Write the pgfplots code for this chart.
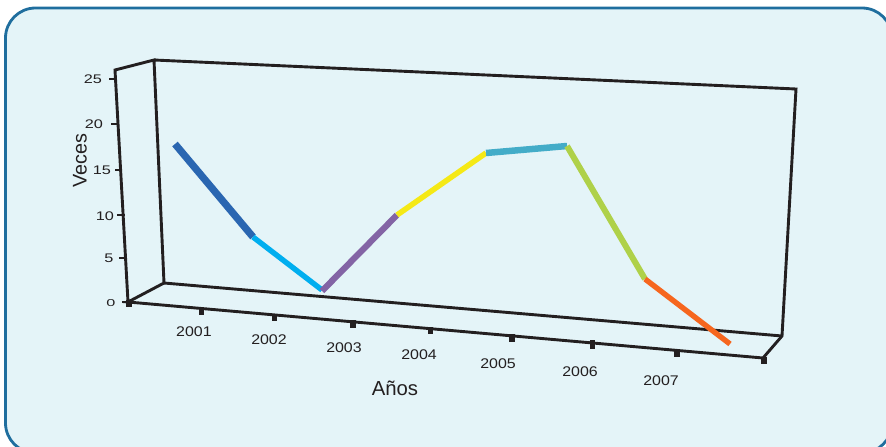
\documentclass[border=0pt]{standalone}
\usepackage{fontspec}
\usepackage{pgfplots}
\pgfplotsset{compat=1.18}
\setmainfont{Liberation Sans}
\newfontfamily\xlabelfont[FakeStretch=1.14]{Liberation Sans}
\newfontfamily\ylabelfont[FakeStretch=1.3]{Liberation Sans}
\definecolor{ink}{HTML}{231F20}
\definecolor{panel}{HTML}{E4F4F8}
\definecolor{panelborder}{HTML}{1F6E9E}
\definecolor{segA}{HTML}{2A66B1}
\definecolor{segB}{HTML}{00AEEF}
\definecolor{segC}{HTML}{8364A5}
\definecolor{segD}{HTML}{F5E916}
\definecolor{segE}{HTML}{43ACC8}
\definecolor{segF}{HTML}{AFD149}
\definecolor{segG}{HTML}{F6661E}
\begin{document}
\begin{tikzpicture}[x=1pt,y=1pt]
\path[use as bounding box] (0,0) rectangle (886,447);
\begin{axis}[
  at={(0pt,0pt)}, anchor=south west,
  width=886pt, height=447pt, scale only axis,
  xmin=0, xmax=886, ymin=0, ymax=447, y dir=reverse,
  hide axis, clip mode=individual, clip=false,
  frame/.style={draw=ink, line width=2.9pt, mark=none, line join=miter},
  tickx/.style={draw=ink, line width=5.5pt, mark=none},
  ticky/.style={draw=ink, line width=2.3pt, mark=none},
]
% rounded panel behind the chart, running past the right and bottom edges
\begin{scope}
\clip (axis cs:0,0) rectangle (axis cs:886,447);
\filldraw[fill=panel, draw=panelborder, line width=2.8pt, rounded corners=30pt]
  (axis cs:5.5,8) -- (axis cs:892,8) -- (axis cs:892,453) -- (axis cs:5.5,453) -- cycle;
\end{scope}

% box of the pseudo-3D plot
\addplot[frame] coordinates {(128,302) (115,70) (154,60) (164,283) (128,302) (763,358) (782,336) (796,89) (154,60)};
\addplot[frame] coordinates {(164,283) (782,336)};

% tick marks along the front edges
\addplot[tickx] coordinates {(129,300) (129,307)};
\addplot[tickx] coordinates {(201.5,307) (201.5,315)};
\addplot[tickx] coordinates {(274.5,314) (274.5,321)};
\addplot[tickx] coordinates {(353,320) (353,328)};
\addplot[tickx] coordinates {(430.5,327) (430.5,334)};
\addplot[tickx] coordinates {(512,334) (512,342)};
\addplot[tickx] coordinates {(592.5,340) (592.5,349)};
\addplot[tickx] coordinates {(677,349) (677,357)};
\addplot[tickx] coordinates {(764,357) (764,364)};
\addplot[ticky] coordinates {(122,302) (128,302)};
\addplot[ticky] coordinates {(119,258) (127,258)};
\addplot[ticky] coordinates {(117,215) (125,215)};
\addplot[ticky] coordinates {(115,170) (122,170)};
\addplot[ticky] coordinates {(111,124) (118,124)};
\addplot[ticky] coordinates {(109,79) (115,79)};

% one coloured segment for each year
\addplot[draw=segA, line width=7.2pt, mark=none] coordinates {(175,144) (253,237)};
\addplot[draw=segB, line width=5.4pt, mark=none] coordinates {(253,237) (322,290)};
\addplot[draw=segC, line width=6.2pt, mark=none] coordinates {(322,291) (397,215)};
\addplot[draw=segD, line width=5.5pt, mark=none] coordinates {(397,215) (486,153)};
\addplot[draw=segE, line width=6.5pt, mark=none] coordinates {(486,153) (567,146)};
\addplot[draw=segF, line width=6pt, mark=none] coordinates {(567,146) (645,279)};
\addplot[draw=segG, line width=5.4pt, mark=none] coordinates {(645,279) (730,344)};

% year labels
\begin{scope}[every node/.style={text=ink, inner sep=0pt, font=\xlabelfont\fontsize{14}{14}\selectfont}]
\node at (axis cs:194,332) {2001};
\node at (axis cs:269,339.5) {2002};
\node at (axis cs:344,347.5) {2003};
\node at (axis cs:419,354.5) {2004};
\node at (axis cs:498,363.5) {2005};
\node at (axis cs:580,371.5) {2006};
\node at (axis cs:661,380.5) {2007};
\end{scope}

% value labels
\begin{scope}[every node/.style={text=ink, inner sep=0pt, font=\ylabelfont\fontsize{12.5}{12.5}\selectfont}]
\node at (axis cs:93,79.5) {25};
\node at (axis cs:94,124) {20};
\node at (axis cs:102,170) {15};
\node at (axis cs:105,216) {10};
\node at (axis cs:109,258) {5};
\node[yscale=0.8] at (axis cs:111,303) {0};
\end{scope}

% axis titles
\node[text=ink, inner sep=0pt, font=\fontsize{20.3}{20}\selectfont] at (axis cs:395,388) {Años};
\node[text=ink, inner sep=0pt, rotate=90, font=\fontsize{19.8}{20}\selectfont] at (axis cs:80,161) {Veces};
\end{axis}
\end{tikzpicture}
\end{document}
